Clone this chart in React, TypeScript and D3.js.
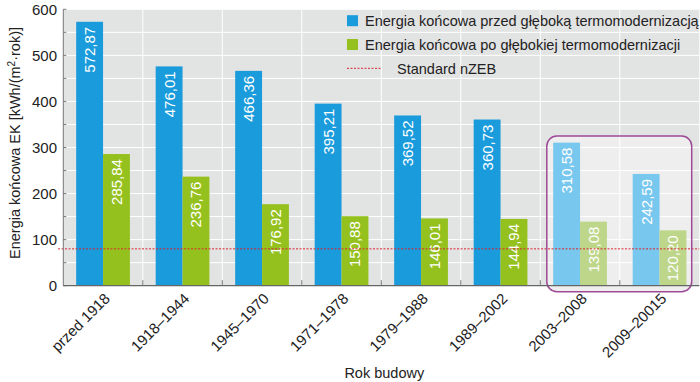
import React from 'react';
import * as d3 from 'd3';

const categories = ['przed 1918', '1918–1944', '1945–1970', '1971–1978', '1979–1988', '1989–2002', '2003–2008', '2009–20015'];
const before = [572.87, 476.01, 466.36, 395.21, 369.52, 360.73, 310.58, 242.59];
const after = [285.84, 236.76, 176.92, 150.88, 146.01, 144.94, 139.08, 120.2];
const highlighted = ['2003–2008', '2009–20015'];
const nzeb = 80;
const yTicks = [0, 100, 200, 300, 400, 500, 600];
const legendLabels = [
  'Energia końcowa przed głęboką termomodernizacją',
  'Energia końcowa po głębokiej termomodernizacji',
  'Standard nZEB',
];

const W = 700;
const H = 382;
const FONT = '"Liberation Sans", Arial, sans-serif';

const blue = '#1a9bdb';
const green = '#95c11f';
const blueLight = '#78c7ee';
const greenLight = '#bdd68a';
const bg = '#e2e3e3';

const fmt = (v: number) => v.toFixed(2).replace('.', ',');

export default function App() {
  const left = 63.3;
  const right = 699.3;
  const x = d3.scaleBand<string>().domain(categories).range([left, right]).padding(0);
  const y = d3.scaleLinear().domain([0, 600]).range([285.7, 9.3]);
  const bw = x.bandwidth();
  const barW = bw * 0.338;
  const pad = (bw - 2 * barW) / 2;

  const gridVals = d3.range(0, 601, 50);
  // frame around the last two groups
  const fx = x(highlighted[0])! + 6.5;
  const fw = x(highlighted[1])! + bw - 7.6 - fx;
  const fy = 136;
  const fh = 291.7 - fy;

  const series = [
    { vals: before, col: blue, light: blueLight, off: 0 },
    { vals: after, col: green, light: greenLight, off: 1 },
  ];

  return (
    <div style={{ position: 'absolute', left: 0, top: 0 }}>
      <svg width={W} height={H} style={{ display: 'block', fontFamily: FONT }}>
        <rect x={0} y={0} width={W} height={H} fill="#fff" />
        {/* plot background */}
        <rect x={left} y={y(600)} width={right - left} height={y(0) - y(600)} fill={bg} />
        <rect x={fx} y={fy} width={fw} height={fh} rx={10} fill="#eeeeee" />
        {gridVals.map((v) => (
          <line key={'g' + v} x1={left} x2={right} y1={y(v)} y2={y(v)} stroke="#fff" strokeWidth={1} />
        ))}
        {categories.slice(1).map((c) => (
          <line key={'v' + c} x1={x(c)} x2={x(c)} y1={y(600)} y2={y(0)} stroke="#fff" strokeWidth={1} />
        ))}

        {/* legend */}
        {legendLabels.map((t, i) => {
          const ly = 20.7 + i * 23.8;
          return (
            <g key={t}>
              {i < 2 ? (
                <rect x={347} y={ly - 5.5} width={11} height={11} fill={i === 0 ? blue : green} />
              ) : (
                <line x1={347} x2={382} y1={ly} y2={ly} stroke="#d9252f" strokeWidth={1} strokeDasharray="2,1.5" />
              )}
              <text x={i < 2 ? 365 : 397} y={ly} dy="0.36em" fontSize={14.5} fill="#222">
                {t}
              </text>
            </g>
          );
        })}

        {/* bars */}
        {series.map((s) =>
          categories.map((c, i) => {
            const bx = x(c)! + pad + s.off * barW;
            const top = y(s.vals[i]);
            const isHl = highlighted.includes(c);
            return (
              <g key={c + s.off}>
                <rect x={bx} y={top} width={barW} height={y(0) - top} fill={isHl ? s.light : s.col} />
                <text
                  transform={`translate(${bx + barW / 2},${top + 5}) rotate(-90)`}
                  textAnchor="end"
                  dy="0.36em"
                  fontSize={15}
                  fill="#fff"
                >
                  {fmt(s.vals[i])}
                </text>
              </g>
            );
          })
        )}

        {/* nZEB line */}
        <line x1={58} x2={right} y1={y(nzeb)} y2={y(nzeb)} stroke="#d9252f" strokeWidth={1} strokeDasharray="2,1.5" />

        <rect x={fx} y={fy} width={fw} height={fh} rx={10} fill="none" stroke="#9e4a97" strokeWidth={1.5} />

        {/* axes */}
        <line x1={left} x2={left} y1={y(600)} y2={y(0)} stroke="#777" strokeWidth={1} />
        {gridVals.map((v) => (
          <line key={'yt' + v} x1={left} x2={left + 3} y1={y(v)} y2={y(v)} stroke="#777" strokeWidth={1} />
        ))}
        <line x1={left} x2={right} y1={y(0)} y2={y(0)} stroke="#666" strokeWidth={1.2} />
        {categories.slice(1).map((c) => (
          <line key={'xt' + c} x1={x(c)} x2={x(c)} y1={y(0)} y2={y(0) - 5.5} stroke="#777" strokeWidth={1} />
        ))}
        {yTicks.map((v) => (
          <text key={'yl' + v} x={57} y={y(v)} dy="0.36em" textAnchor="end" fontSize={15} fill="#222">
            {v}
          </text>
        ))}
        {categories.map((c) => (
          <text
            key={'xl' + c}
            transform={`translate(${x(c)! + bw / 2 + 4},${y(0) + 10}) rotate(-45)`}
            textAnchor="end"
            dy="0.36em"
            fontSize={15}
            fill="#222"
          >
            {c}
          </text>
        ))}
        <text x={(left + right) / 2 + 3} y={373} dy="0.36em" textAnchor="middle" fontSize={14.5} fill="#222">
          Rok budowy
        </text>
        <text transform={`translate(15,143) rotate(-90)`} textAnchor="middle" dy="0.36em" fontSize={14.5} fill="#222">
          Energia końcowa EK [kWh/(m<tspan dy="-5" fontSize={10}>2</tspan>
          <tspan dy="5">·rok)]</tspan>
        </text>
      </svg>
    </div>
  );
}
